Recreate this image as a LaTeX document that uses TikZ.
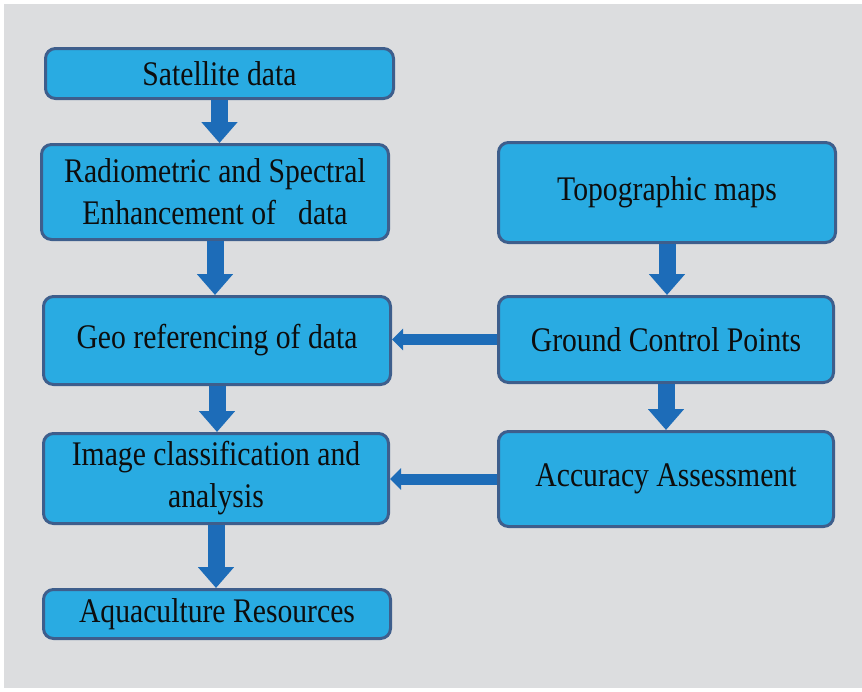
\documentclass[tikz,border=0pt]{standalone}
\usepackage{fontspec}
\setmainfont{Liberation Serif}[FakeStretch=0.86]
\usetikzlibrary{arrows.meta}
\definecolor{panel}{HTML}{DCDDDF}
\definecolor{boxfill}{HTML}{29ABE2}
\definecolor{boxline}{HTML}{3E5E8C}
\definecolor{flow}{HTML}{1D6CB8}
\begin{document}
\begin{tikzpicture}[x=1pt,y=-1pt,
  stage/.style={draw=boxline, line width=3pt, fill=boxfill, rounded corners=10pt,
    align=center, text=black!95, inner sep=0pt,
    font=\fontsize{34.5}{42}\selectfont},
  downflow/.style={draw=flow, line width=17pt, line cap=butt,
    -{Triangle[width=35pt,length=21pt]}},
  sideflow/.style={draw=flow, line width=11pt, line cap=butt,
    -{Triangle[width=21pt,length=11pt]}}]

% page and panel
\useasboundingbox (0,0) rectangle (862,691);
\fill[white] (0,0) rectangle (862,691);
\fill[panel] (4,4) rectangle (862,688);

% left column
\node[stage, minimum width=348pt, minimum height=50pt] (sat) at (219.5,73.5) {\raisebox{-3pt}{Satellite\ data}};
\node[stage, minimum width=347pt, minimum height=95pt] (rad) at (215,192)
  {Radiometric and Spectral\\Enhancement of\ \ \ data};
\node[stage, minimum width=347pt, minimum height=88pt] (geo) at (217,340.5) {Geo referencing of data};
\node[stage, minimum width=345pt, minimum height=90pt] (img) at (216,478.5)
  {Image classification and\\analysis};
\node[stage, minimum width=347pt, minimum height=49pt] (aqua) at (217,614) {Aquaculture Resources};

% right column
\node[stage, minimum width=337pt, minimum height=100pt] (topo) at (667,192.5) {Topographic maps};
\node[stage, minimum width=335pt, minimum height=86pt] (gcp) at (666,339.5) {Ground Control Points};
\node[stage, minimum width=335pt, minimum height=95pt] (acc) at (666,479) {Accuracy Assessment};

% flow arrows
\draw[downflow] (sat.south) -- (sat.south |- rad.north);
\draw[downflow] (rad.south) -- (rad.south |- geo.north);
\draw[downflow] (geo.south) -- (geo.south |- img.north);
\draw[downflow] (img.south) -- (img.south |- aqua.north);
\draw[downflow] (topo.south) -- (topo.south |- gcp.north);
\draw[downflow] (gcp.south) -- (gcp.south |- acc.north);
\draw[sideflow] (gcp.west) -- (gcp.west -| geo.east);
\draw[sideflow] (acc.west) -- (acc.west -| img.east);
\end{tikzpicture}
\end{document}
